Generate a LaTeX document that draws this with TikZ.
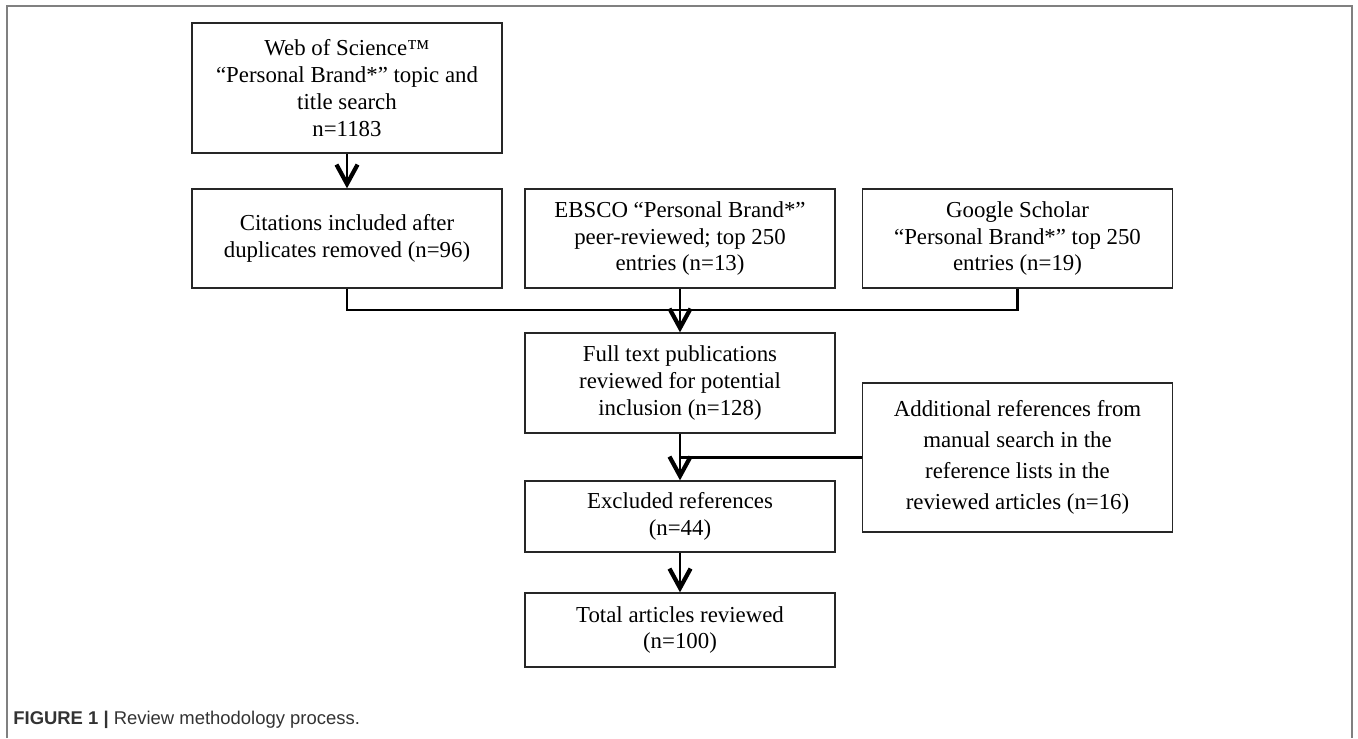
\documentclass[tikz,border=0pt]{standalone}
\usepackage{fontspec}
\setmainfont{Liberation Serif}
\setsansfont{Liberation Sans}
\usetikzlibrary{arrows.meta}

\begin{document}
\begin{tikzpicture}[x=0.02cm,y=-0.02cm,
    box/.style={draw=black!85,line width=0.8pt,minimum width=6.2cm,inner sep=0pt,align=center,
        font=\fontsize{13}{15.3}\selectfont},
    link/.style={line width=1.4pt},
    flow/.style={link,-{Straight Barb[length=11pt,width=12pt,line width=2.4pt]}}]
    \useasboundingbox (0,0) rectangle (1358,738);

    % Outer frame, open at the bottom
    \draw[gray,line width=1.1pt] (7,738) -- (7,6) -- (1352,6) -- (1352,738);

    % Search boxes
    \node[box,minimum height=2.6cm] (web) at (347,88) {Web of Science™\\“Personal Brand*” topic and\\title search\\n=1183};
    \node[box,minimum height=1.98cm] (cite) at (347,238.5) {Citations included after\\duplicates removed (n=96)};
    \node[box,minimum height=1.98cm] (ebsco) at (680,238.5) {EBSCO “Personal Brand*”\\peer-reviewed; top 250\\entries (n=13)};
    \node[box,minimum height=1.98cm] (google) at (1017.5,238.5) {Google Scholar\\“Personal Brand*” top 250\\entries (n=19)};

    % Screening boxes
    \node[box,minimum height=2cm] (full) at (680,383) {Full text publications\\reviewed for potential\\inclusion (n=128)};
    \node[box,minimum height=2.98cm,font=\fontsize{13}{17.6}\selectfont] (addl) at (1017.5,457.5) {Additional references from\\manual search in the\\reference lists in the\\reviewed articles (n=16)};
    \node[box,minimum height=1.42cm] (excl) at (680,516.5) {Excluded references\\(n=44)};
    \node[box,minimum height=1.48cm] (total) at (680,630) {Total articles reviewed\\(n=100)};

    % Connectors
    \coordinate (merge) at (680,310);
    \draw[flow] (web) -- (cite);
    \draw[link] (cite.south) |- (merge) -| (google.south);
    \draw[flow] (ebsco) -- (full);
    \draw[link] (addl.west) -- (addl.west -| full.south);
    \draw[flow] (full) -- (excl);
    \draw[flow] (excl) -- (total);

    % Caption
    \node[anchor=west,inner sep=0pt,text=black!80,font=\sffamily\fontsize{10.5}{12}\selectfont] (caption) at (13,720) {\textbf{FIGURE 1 |} Review methodology process.};
\end{tikzpicture}
\end{document}
